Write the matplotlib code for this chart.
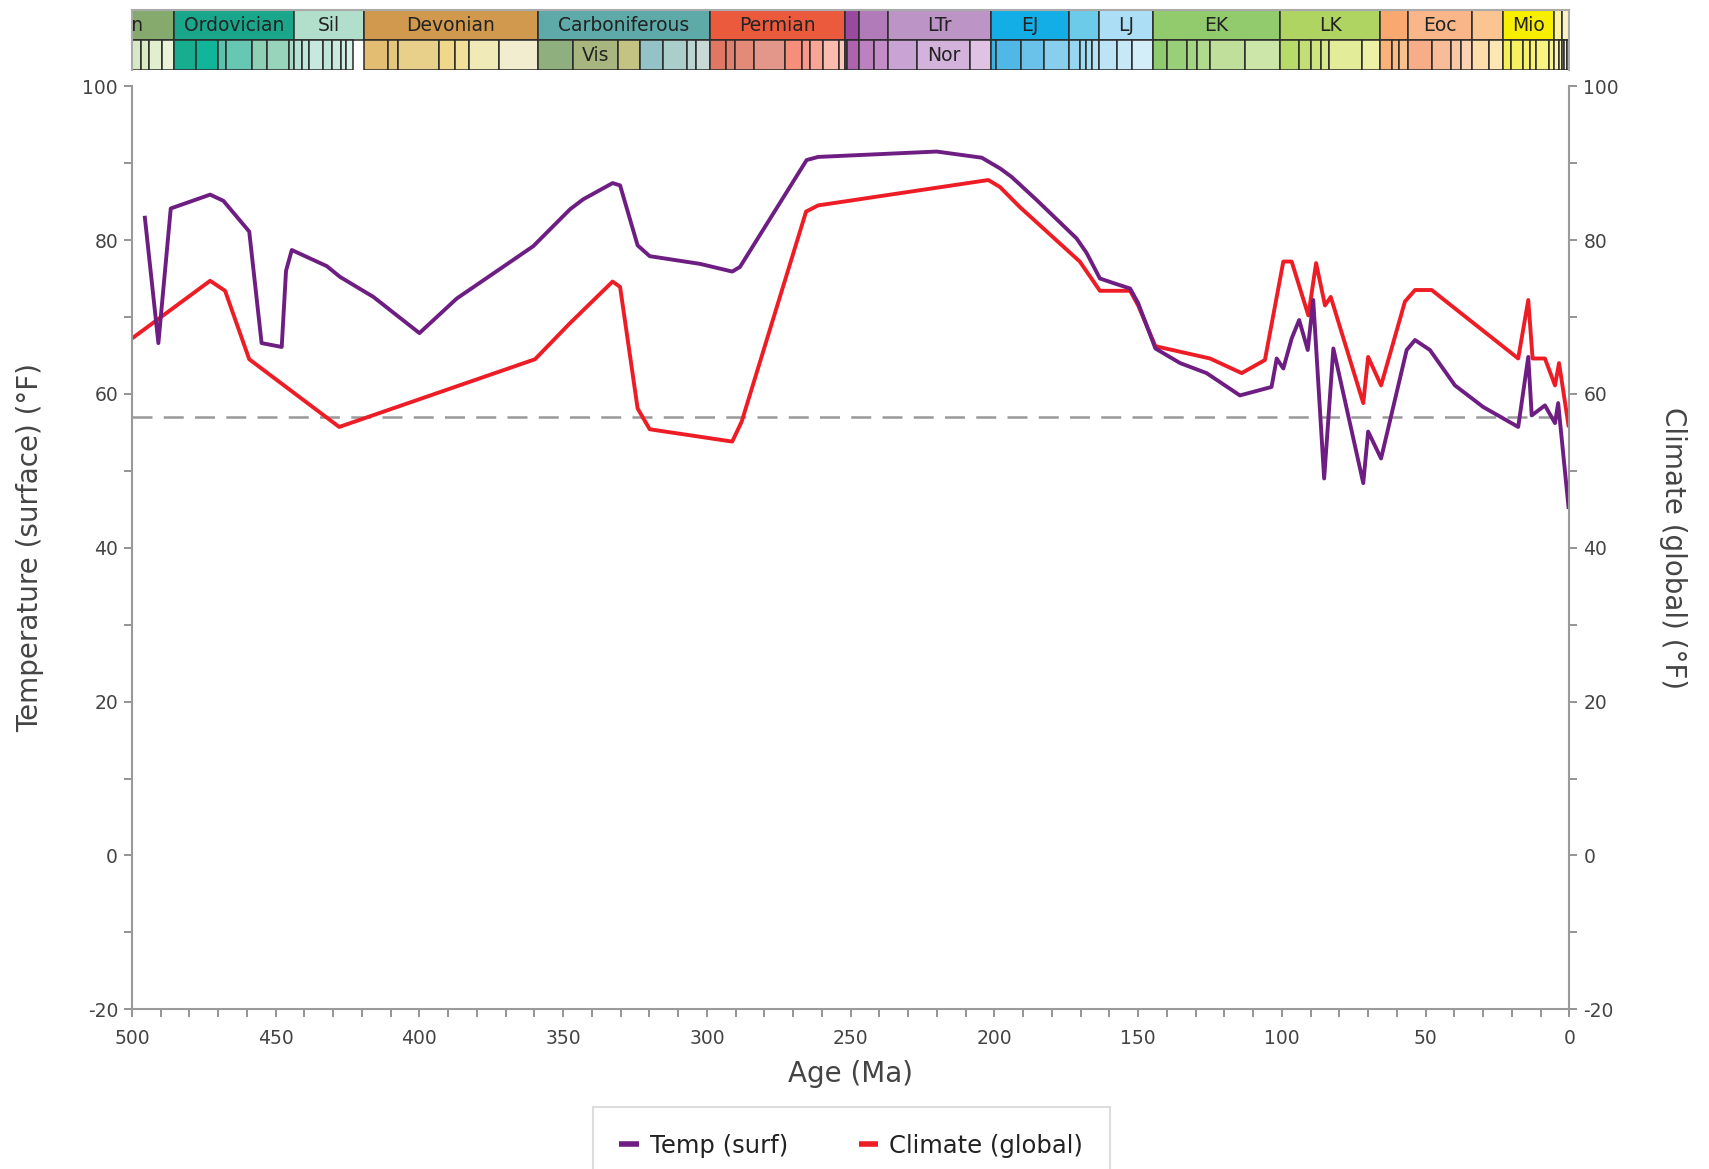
import matplotlib
matplotlib.use('Agg')
import matplotlib.pyplot as plt
from matplotlib.lines import Line2D
from matplotlib.ticker import MultipleLocator

plt.rcParams['axes.unicode_minus'] = False

# surface temperature (deg F) against age (Ma)
temp_age = [495.5, 490.8, 486.5, 472.8, 468.2, 459.2, 454.9, 447.9, 446.4, 444.4,
            432.2, 427.6, 416.0, 400.0, 387.0, 360.4, 347.6, 343.0, 332.8, 330.2,
            324.1, 319.9, 302.4, 291.2, 288.5, 265.3, 261.3, 220.1, 204.4, 198.0,
            194.0, 185.3, 171.4, 167.9, 163.3, 158.6, 152.8, 150.0, 144.0, 135.4,
            126.2, 114.6, 103.6, 101.8, 99.5, 96.6, 94.0, 91.0, 89.1, 85.3,
            82.1, 71.7, 70.0, 65.5, 56.6, 53.7, 48.5, 39.8, 30.0, 17.8,
            14.3, 13.1, 8.5, 5.0, 3.9, 0.3]
temp_val = [82.9, 66.6, 84.1, 85.9, 85.1, 81.1, 66.6, 66.1, 76.0, 78.7,
            76.6, 75.2, 72.6, 67.9, 72.4, 79.2, 84.0, 85.3, 87.4, 87.1,
            79.3, 77.9, 76.9, 75.9, 76.5, 90.4, 90.8, 91.5, 90.7, 89.3,
            88.2, 85.2, 80.2, 78.3, 75.0, 74.4, 73.7, 71.8, 65.9, 64.0,
            62.7, 59.8, 60.9, 64.6, 63.3, 67.2, 69.6, 65.7, 72.2, 49.0,
            65.9, 48.4, 55.1, 51.6, 65.7, 67.0, 65.7, 61.1, 58.3, 55.7,
            64.8, 57.2, 58.5, 56.2, 58.8, 45.3]

# global climate (deg F) against age (Ma)
climate_age = [500.0, 472.8, 467.6, 459.2, 427.9, 359.8, 347.6, 332.8, 330.2, 324.1,
               319.9, 291.2, 287.9, 265.5, 261.3, 202.1, 198.1, 191.2, 170.3, 163.3,
               152.8, 150.0, 144.0, 125.0, 114.0, 105.9, 99.5, 96.6, 90.8, 88.1,
               85.0, 83.0, 71.7, 70.0, 65.5, 57.2, 53.7, 47.9, 17.8, 14.3,
               12.8, 8.5, 5.0, 3.6, 0.3]
climate_val = [67.2, 74.7, 73.4, 64.5, 55.7, 64.5, 69.2, 74.6, 73.9, 58.1,
               55.4, 53.8, 56.4, 83.7, 84.5, 87.8, 86.9, 84.3, 77.2, 73.4,
               73.4, 71.5, 66.2, 64.6, 62.7, 64.4, 77.2, 77.2, 70.2, 77.0,
               71.5, 72.6, 58.8, 64.8, 61.1, 72.0, 73.5, 73.5, 64.6, 72.2,
               64.6, 64.6, 61.1, 64.0, 55.9]

present_day = 57.0

# geologic time scale, upper row (periods / epochs)
period_names = ['Cambrian', 'Ordovician', 'Sil', 'Devonian', 'Carboniferous', 'Permian',
                '', '', 'LTr', 'EJ', '', 'LJ', 'EK', 'LK', '', 'Eoc', '', 'Mio', '', '', '']
period_start = [538.8, 485.4, 443.8, 419.2, 358.9, 298.9, 251.9, 247.2, 237.0, 201.3,
                174.1, 163.5, 145.0, 100.5, 66.0, 56.0, 33.9, 23.03, 5.333, 2.58, 0.0117]
period_end = [485.4, 443.8, 419.2, 358.9, 298.9, 251.9, 247.2, 237.0, 201.3, 174.1,
              163.5, 145.0, 100.5, 66.0, 56.0, 33.9, 23.03, 5.333, 2.58, 0.0117, 0.0]
period_colors = ['#86A96D', '#1AA68A', '#B2DFCB', '#D0994D', '#5EAAA8', '#EC5A3E',
                 '#9A4A9E', '#B07BB8', '#BC95C6', '#13AEE5', '#6DCBEA', '#ACDFF6',
                 '#92CB6D', '#AFD461', '#F9A870', '#F9B688', '#FAC591', '#F7EE00',
                 '#FAF29E', '#FAF1C4', '#FBF3DC']

# lower row (stages); Pridoli has no stages so it is left blank
stage_start = [500.5, 497.0, 494.0, 489.5,
               485.4, 477.7, 470.0, 467.3, 458.4, 453.0, 445.2,
               443.8, 440.8, 438.5, 433.4, 430.5, 427.4, 425.6,
               419.2, 410.8, 407.6, 393.3, 387.7, 382.7, 372.2,
               358.9, 346.7, 330.9, 323.2, 315.2, 307.0, 303.7,
               298.9, 293.52, 290.1, 283.5, 273.01, 266.9, 264.28, 259.51, 254.14,
               251.902, 251.2, 247.2, 242.0, 237.0, 227.0, 208.5,
               201.3, 199.3, 190.8, 182.7, 174.1, 170.3, 168.3, 166.1, 163.5, 157.3, 152.1,
               145.0, 139.8, 132.9, 129.4, 125.0, 113.0, 100.5, 93.9, 89.8, 86.3, 83.6, 72.1,
               66.0, 61.6, 59.2, 56.0, 47.8, 41.2, 37.71, 33.9, 27.82,
               23.03, 20.44, 15.97, 13.82, 11.63, 7.246, 5.333, 3.6,
               2.58, 1.8, 0.774, 0.129, 0.0117, 0.0082, 0.0042]
stage_end = stage_start[1:18] + [423.0] + stage_start[19:] + [0.0]
stage_colors = ['#D6E9C4', '#D9EBC6', '#E1EFCF', '#E8F3D9',
                '#17AE90', '#10B59A', '#5BC2AE', '#66C7B2', '#8DD0B4', '#98D4BB', '#A8DBC6',
                '#B8E2D6', '#C0E5DB', '#C6E8DE', '#BFE5D8', '#CBEADF', '#CFECE3', '#D8F0E8',
                '#E3BD72', '#E5C77C', '#E8D08A', '#EFD88A', '#F0E09A', '#F0EAB8', '#F3EDCF',
                '#8FB07E', '#A7B67E', '#C4C384', '#93C3C6', '#AACFCB', '#BBD5D2', '#C8D9D6',
                '#E07765', '#E08170', '#E38A78', '#E3978A', '#F58F7C', '#F7998A', '#F8A595',
                '#FBBBAE', '#FCC6BA',
                '#A24DA4', '#AE63AF', '#BC82C0', '#C48CC6', '#C9A3D3', '#D3B3DC', '#E0C2E2',
                '#3DB3E3', '#50B8E6', '#6AC2EA', '#88CFEE', '#96D6F0', '#A0DAF2', '#AADEF2',
                '#B6E2F4', '#BCE4F6', '#C6E8F7', '#D4EEF9',
                '#8DCB6E', '#99CF78', '#A5D583', '#B2DA8E', '#BFDF9A', '#CCE5A8',
                '#B8DA6A', '#C3DE74', '#CFE37F', '#D9E88A', '#E3EC98', '#EDF1A6',
                '#F9B27A', '#FABA82', '#FAC08C', '#F7AE88', '#F9BC98', '#FAC8A7', '#FBD2B3',
                '#FDDDAA', '#FEE7B4',
                '#F6F056', '#F7F160', '#F7F26B', '#F8F276', '#F9F381', '#FAF48C',
                '#FBF5B0', '#FBF5BE',
                '#FBF0C0', '#FBF2C8', '#FBF3D2', '#FCF4DA', '#FCF5E0', '#FCF5E4', '#FCF6E8']
stage_names = {'Vis': 346.7, 'Nor': 227.0}

text_color = '#444444'
spine_color = '#9A9A9A'

fig = plt.figure(figsize=(17.09, 11.69), dpi=100)
ax = fig.add_axes([0.0772, 0.1366, 0.8411, 0.7897])
ax2 = ax.twinx()

ax.axhline(present_day, color='#999999', lw=1.8, dashes=(8, 4.5), zorder=1)
ax.plot(climate_age, climate_val, color='#EE1C25', lw=2.8, zorder=2)
ax.plot(temp_age, temp_val, color='#6E1E82', lw=2.8, zorder=3)

for a in (ax, ax2):
    a.set_xlim(500, 0)
    a.set_ylim(-20, 100)
    a.yaxis.set_major_locator(MultipleLocator(20))
    a.yaxis.set_minor_locator(MultipleLocator(10))
    a.tick_params(which='both', direction='out', length=5.5, width=1.1,
                  color='#777777', labelsize=13.5, labelcolor=text_color, pad=4.5)
    for s in a.spines.values():
        s.set_color(spine_color)
        s.set_linewidth(1.5)
    a.spines['top'].set_visible(False)

ax.spines['right'].set_visible(False)
ax2.spines['left'].set_visible(False)
ax2.spines['bottom'].set_visible(False)
ax.xaxis.set_major_locator(MultipleLocator(50))
ax.xaxis.set_minor_locator(MultipleLocator(10))
ax.tick_params(axis='x', which='both', pad=9)

ax.set_xlabel('Age (Ma)', fontsize=20, color=text_color, va='center')
ax.xaxis.set_label_coords(0.5, -0.0697)
ax.set_ylabel('Temperature (surface) (°F)', fontsize=20, color=text_color, va='center')
ax.yaxis.set_label_coords(-0.0709, 0.5)
ax2.set_ylabel('Climate (global) (°F)', fontsize=20, color=text_color,
               rotation=270, va='center')
ax2.yaxis.set_label_coords(1.0721, 0.5)

# time scale strip above the plot
bar = fig.add_axes([0.0772, 0.9401, 0.8411, 0.0513])
bar.set_xlim(500, 0)
bar.set_ylim(0, 2)
bar.set_xticks([])
bar.set_yticks([])
for s in bar.spines.values():
    s.set_color('#AAAAAA')
    s.set_linewidth(1.5)
bar.spines['bottom'].set_visible(False)

bar.bar(x=period_end, height=1, width=[s - e for s, e in zip(period_start, period_end)],
        bottom=1, align='edge', color=period_colors, edgecolor='#2A2A2A', linewidth=1.1)
bar.bar(x=stage_end, height=1, width=[s - e for s, e in zip(stage_start, stage_end)],
        bottom=0, align='edge', color=stage_colors, edgecolor='#2A2A2A', linewidth=1.1)

for name, s, e in zip(period_names, period_start, period_end):
    if name:
        bar.text((s + e) / 2, 1.5, name, ha='center', va='center', fontsize=13.5,
                 color='#222222', clip_on=True)
for name, s in stage_names.items():
    e = stage_end[stage_start.index(s)]
    bar.text((s + e) / 2, 0.5, name, ha='center', va='center', fontsize=13.5,
             color='#222222', clip_on=True)

handles = [Line2D([], [], color='#6E1E82', lw=4, solid_capstyle='butt'),
           Line2D([], [], color='#EE1C25', lw=4, solid_capstyle='butt')]
leg = fig.legend(handles, ['Temp (surf)', 'Climate (global)'], loc='upper center',
                 bbox_to_anchor=(0.498, 0.053), ncol=2, fontsize=17.5, frameon=True,
                 fancybox=False, framealpha=1, edgecolor='#DDDDDD', borderpad=1.1,
                 borderaxespad=0, handlelength=0.8, handletextpad=0.45, columnspacing=2.9)
leg.get_frame().set_linewidth(1.5)
for t in leg.get_texts():
    t.set_color('#222222')

fig.savefig('out.png', dpi=100)
